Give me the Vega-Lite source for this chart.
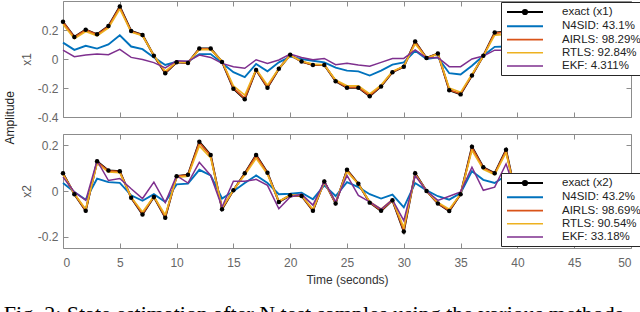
{
  "$schema": "https://vega.github.io/schema/vega-lite/v6.json",
  "padding": {"left": 3, "top": 0, "right": 0, "bottom": 0},
  "title": {"text": "Fig. 2: State estimation after N test samples using the various methods", "orient": "bottom", "anchor": "start", "font": "Liberation Serif", "fontSize": 22, "fontWeight": "normal", "color": "#000", "offset": 19},
  "datasets": {
    "x1": [
      {"t":0,"s":"exact","v":0.257},{"t":1,"s":"exact","v":0.152},{"t":2,"s":"exact","v":0.202},{"t":3,"s":"exact","v":0.17},{"t":4,"s":"exact","v":0.227},{"t":5,"s":"exact","v":0.362},{"t":6,"s":"exact","v":0.193},{"t":7,"s":"exact","v":0.166},{"t":8,"s":"exact","v":0.022},{"t":9,"s":"exact","v":-0.098},{"t":10,"s":"exact","v":-0.023},{"t":11,"s":"exact","v":-0.027},{"t":12,"s":"exact","v":0.072},{"t":13,"s":"exact","v":0.072},{"t":14,"s":"exact","v":-0.02},{"t":15,"s":"exact","v":-0.205},{"t":16,"s":"exact","v":-0.278},{"t":17,"s":"exact","v":-0.075},{"t":18,"s":"exact","v":-0.198},{"t":19,"s":"exact","v":-0.068},{"t":20,"s":"exact","v":0.029},{"t":21,"s":"exact","v":-0.018},{"t":22,"s":"exact","v":-0.041},{"t":23,"s":"exact","v":-0.041},{"t":24,"s":"exact","v":-0.153},{"t":25,"s":"exact","v":-0.198},{"t":26,"s":"exact","v":-0.198},{"t":27,"s":"exact","v":-0.257},{"t":28,"s":"exact","v":-0.189},{"t":29,"s":"exact","v":-0.091},{"t":30,"s":"exact","v":-0.053},{"t":31,"s":"exact","v":0.12},{"t":32,"s":"exact","v":0.007},{"t":33,"s":"exact","v":0.038},{"t":34,"s":"exact","v":-0.216},{"t":35,"s":"exact","v":-0.244},{"t":36,"s":"exact","v":-0.114},{"t":37,"s":"exact","v":0.022},{"t":38,"s":"exact","v":0.182},{"t":39,"s":"exact","v":0.19},{"t":50,"s":"exact","v":0.228},
      {"t":0,"s":"N4SID","v":0.113},{"t":1,"s":"N4SID","v":0.063},{"t":2,"s":"N4SID","v":0.091},{"t":3,"s":"N4SID","v":0.072},{"t":4,"s":"N4SID","v":0.1},{"t":5,"s":"N4SID","v":0.164},{"t":6,"s":"N4SID","v":0.086},{"t":7,"s":"N4SID","v":0.068},{"t":8,"s":"N4SID","v":0.011},{"t":9,"s":"N4SID","v":-0.041},{"t":10,"s":"N4SID","v":-0.018},{"t":11,"s":"N4SID","v":-0.018},{"t":12,"s":"N4SID","v":0.034},{"t":13,"s":"N4SID","v":0.034},{"t":14,"s":"N4SID","v":-0.027},{"t":15,"s":"N4SID","v":-0.091},{"t":16,"s":"N4SID","v":-0.125},{"t":17,"s":"N4SID","v":-0.034},{"t":18,"s":"N4SID","v":-0.085},{"t":19,"s":"N4SID","v":-0.023},{"t":20,"s":"N4SID","v":0.016},{"t":21,"s":"N4SID","v":0.0},{"t":22,"s":"N4SID","v":-0.012},{"t":23,"s":"N4SID","v":-0.023},{"t":24,"s":"N4SID","v":-0.06},{"t":25,"s":"N4SID","v":-0.08},{"t":26,"s":"N4SID","v":-0.085},{"t":27,"s":"N4SID","v":-0.114},{"t":28,"s":"N4SID","v":-0.08},{"t":29,"s":"N4SID","v":-0.039},{"t":30,"s":"N4SID","v":-0.023},{"t":31,"s":"N4SID","v":0.057},{"t":32,"s":"N4SID","v":0.0},{"t":33,"s":"N4SID","v":0.011},{"t":34,"s":"N4SID","v":-0.098},{"t":35,"s":"N4SID","v":-0.107},{"t":36,"s":"N4SID","v":-0.046},{"t":37,"s":"N4SID","v":0.022},{"t":38,"s":"N4SID","v":0.084},{"t":39,"s":"N4SID","v":0.086},
      {"t":0,"s":"AIRLS","v":0.255},{"t":1,"s":"AIRLS","v":0.15},{"t":2,"s":"AIRLS","v":0.2},{"t":3,"s":"AIRLS","v":0.168},{"t":4,"s":"AIRLS","v":0.224},{"t":5,"s":"AIRLS","v":0.357},{"t":6,"s":"AIRLS","v":0.19},{"t":7,"s":"AIRLS","v":0.164},{"t":8,"s":"AIRLS","v":0.023},{"t":9,"s":"AIRLS","v":-0.095},{"t":10,"s":"AIRLS","v":-0.022},{"t":11,"s":"AIRLS","v":-0.026},{"t":12,"s":"AIRLS","v":0.07},{"t":13,"s":"AIRLS","v":0.07},{"t":14,"s":"AIRLS","v":-0.019},{"t":15,"s":"AIRLS","v":-0.2},{"t":16,"s":"AIRLS","v":-0.272},{"t":17,"s":"AIRLS","v":-0.074},{"t":18,"s":"AIRLS","v":-0.194},{"t":19,"s":"AIRLS","v":-0.067},{"t":20,"s":"AIRLS","v":0.028},{"t":21,"s":"AIRLS","v":-0.018},{"t":22,"s":"AIRLS","v":-0.04},{"t":23,"s":"AIRLS","v":-0.041},{"t":24,"s":"AIRLS","v":-0.15},{"t":25,"s":"AIRLS","v":-0.195},{"t":26,"s":"AIRLS","v":-0.195},{"t":27,"s":"AIRLS","v":-0.252},{"t":28,"s":"AIRLS","v":-0.186},{"t":29,"s":"AIRLS","v":-0.09},{"t":30,"s":"AIRLS","v":-0.052},{"t":31,"s":"AIRLS","v":0.117},{"t":32,"s":"AIRLS","v":0.007},{"t":33,"s":"AIRLS","v":0.037},{"t":34,"s":"AIRLS","v":-0.212},{"t":35,"s":"AIRLS","v":-0.24},{"t":36,"s":"AIRLS","v":-0.112},{"t":37,"s":"AIRLS","v":0.022},{"t":38,"s":"AIRLS","v":0.178},{"t":39,"s":"AIRLS","v":0.186},
      {"t":0,"s":"RTLS","v":0.24},{"t":1,"s":"RTLS","v":0.14},{"t":2,"s":"RTLS","v":0.19},{"t":3,"s":"RTLS","v":0.16},{"t":4,"s":"RTLS","v":0.215},{"t":5,"s":"RTLS","v":0.345},{"t":6,"s":"RTLS","v":0.185},{"t":7,"s":"RTLS","v":0.16},{"t":8,"s":"RTLS","v":0.025},{"t":9,"s":"RTLS","v":-0.085},{"t":10,"s":"RTLS","v":-0.02},{"t":11,"s":"RTLS","v":-0.025},{"t":12,"s":"RTLS","v":0.065},{"t":13,"s":"RTLS","v":0.065},{"t":14,"s":"RTLS","v":-0.015},{"t":15,"s":"RTLS","v":-0.185},{"t":16,"s":"RTLS","v":-0.25},{"t":17,"s":"RTLS","v":-0.07},{"t":18,"s":"RTLS","v":-0.18},{"t":19,"s":"RTLS","v":-0.065},{"t":20,"s":"RTLS","v":0.025},{"t":21,"s":"RTLS","v":-0.015},{"t":22,"s":"RTLS","v":-0.035},{"t":23,"s":"RTLS","v":-0.04},{"t":24,"s":"RTLS","v":-0.145},{"t":25,"s":"RTLS","v":-0.185},{"t":26,"s":"RTLS","v":-0.185},{"t":27,"s":"RTLS","v":-0.24},{"t":28,"s":"RTLS","v":-0.18},{"t":29,"s":"RTLS","v":-0.085},{"t":30,"s":"RTLS","v":-0.05},{"t":31,"s":"RTLS","v":0.105},{"t":32,"s":"RTLS","v":0.005},{"t":33,"s":"RTLS","v":0.035},{"t":34,"s":"RTLS","v":-0.2},{"t":35,"s":"RTLS","v":-0.23},{"t":36,"s":"RTLS","v":-0.105},{"t":37,"s":"RTLS","v":0.02},{"t":38,"s":"RTLS","v":0.165},{"t":39,"s":"RTLS","v":0.17},
      {"t":0,"s":"EKF","v":0.061},{"t":1,"s":"EKF","v":0.016},{"t":2,"s":"EKF","v":0.027},{"t":3,"s":"EKF","v":0.034},{"t":4,"s":"EKF","v":0.029},{"t":5,"s":"EKF","v":0.066},{"t":6,"s":"EKF","v":0.011},{"t":7,"s":"EKF","v":-0.003},{"t":8,"s":"EKF","v":-0.025},{"t":9,"s":"EKF","v":-0.061},{"t":10,"s":"EKF","v":-0.012},{"t":11,"s":"EKF","v":-0.016},{"t":12,"s":"EKF","v":0.027},{"t":13,"s":"EKF","v":0.011},{"t":14,"s":"EKF","v":-0.03},{"t":15,"s":"EKF","v":-0.053},{"t":16,"s":"EKF","v":-0.064},{"t":17,"s":"EKF","v":-0.005},{"t":18,"s":"EKF","v":-0.03},{"t":19,"s":"EKF","v":-0.007},{"t":20,"s":"EKF","v":0.034},{"t":21,"s":"EKF","v":0.011},{"t":22,"s":"EKF","v":-0.005},{"t":23,"s":"EKF","v":0.004},{"t":24,"s":"EKF","v":-0.039},{"t":25,"s":"EKF","v":-0.03},{"t":26,"s":"EKF","v":-0.041},{"t":27,"s":"EKF","v":-0.05},{"t":28,"s":"EKF","v":-0.023},{"t":29,"s":"EKF","v":0.004},{"t":30,"s":"EKF","v":0.004},{"t":31,"s":"EKF","v":0.063},{"t":32,"s":"EKF","v":0.007},{"t":33,"s":"EKF","v":0.011},{"t":34,"s":"EKF","v":-0.053},{"t":35,"s":"EKF","v":-0.053},{"t":36,"s":"EKF","v":0.0},{"t":37,"s":"EKF","v":0.02},{"t":38,"s":"EKF","v":0.061},{"t":39,"s":"EKF","v":0.061}
    ],
    "x2": [
      {"t":0,"s":"exact","v":0.078},{"t":1,"s":"exact","v":-0.014},{"t":2,"s":"exact","v":-0.087},{"t":3,"s":"exact","v":0.13},{"t":4,"s":"exact","v":0.09},{"t":5,"s":"exact","v":0.087},{"t":6,"s":"exact","v":-0.03},{"t":7,"s":"exact","v":-0.103},{"t":8,"s":"exact","v":-0.026},{"t":9,"s":"exact","v":-0.117},{"t":10,"s":"exact","v":0.065},{"t":11,"s":"exact","v":0.071},{"t":12,"s":"exact","v":0.216},{"t":13,"s":"exact","v":0.158},{"t":14,"s":"exact","v":-0.08},{"t":15,"s":"exact","v":0.003},{"t":16,"s":"exact","v":0.078},{"t":17,"s":"exact","v":0.158},{"t":18,"s":"exact","v":0.08},{"t":19,"s":"exact","v":-0.048},{"t":20,"s":"exact","v":-0.019},{"t":21,"s":"exact","v":-0.022},{"t":22,"s":"exact","v":-0.087},{"t":23,"s":"exact","v":0.042},{"t":24,"s":"exact","v":-0.055},{"t":25,"s":"exact","v":0.093},{"t":26,"s":"exact","v":0.032},{"t":27,"s":"exact","v":-0.051},{"t":28,"s":"exact","v":-0.087},{"t":29,"s":"exact","v":-0.041},{"t":30,"s":"exact","v":-0.178},{"t":31,"s":"exact","v":0.078},{"t":32,"s":"exact","v":0.0},{"t":33,"s":"exact","v":-0.055},{"t":34,"s":"exact","v":-0.088},{"t":35,"s":"exact","v":-0.014},{"t":36,"s":"exact","v":0.194},{"t":37,"s":"exact","v":0.104},{"t":38,"s":"exact","v":0.078},{"t":39,"s":"exact","v":0.181},{"t":40,"s":"exact","v":-0.05},{"t":50,"s":"exact","v":-0.104},
      {"t":0,"s":"N4SID","v":0.035},{"t":1,"s":"N4SID","v":-0.004},{"t":2,"s":"N4SID","v":-0.038},{"t":3,"s":"N4SID","v":0.054},{"t":4,"s":"N4SID","v":0.039},{"t":5,"s":"N4SID","v":0.036},{"t":6,"s":"N4SID","v":-0.019},{"t":7,"s":"N4SID","v":-0.043},{"t":8,"s":"N4SID","v":-0.014},{"t":9,"s":"N4SID","v":-0.048},{"t":10,"s":"N4SID","v":0.029},{"t":11,"s":"N4SID","v":0.032},{"t":12,"s":"N4SID","v":0.093},{"t":13,"s":"N4SID","v":0.068},{"t":14,"s":"N4SID","v":-0.033},{"t":15,"s":"N4SID","v":-0.001},{"t":16,"s":"N4SID","v":0.035},{"t":17,"s":"N4SID","v":0.068},{"t":18,"s":"N4SID","v":0.035},{"t":19,"s":"N4SID","v":-0.014},{"t":20,"s":"N4SID","v":-0.012},{"t":21,"s":"N4SID","v":-0.007},{"t":22,"s":"N4SID","v":-0.036},{"t":23,"s":"N4SID","v":0.025},{"t":24,"s":"N4SID","v":-0.022},{"t":25,"s":"N4SID","v":0.039},{"t":26,"s":"N4SID","v":0.017},{"t":27,"s":"N4SID","v":-0.014},{"t":28,"s":"N4SID","v":-0.033},{"t":29,"s":"N4SID","v":-0.016},{"t":30,"s":"N4SID","v":-0.072},{"t":31,"s":"N4SID","v":0.035},{"t":32,"s":"N4SID","v":0.003},{"t":33,"s":"N4SID","v":-0.023},{"t":34,"s":"N4SID","v":-0.038},{"t":35,"s":"N4SID","v":-0.009},{"t":36,"s":"N4SID","v":0.087},{"t":37,"s":"N4SID","v":0.049},{"t":38,"s":"N4SID","v":0.035},{"t":39,"s":"N4SID","v":0.068},{"t":40,"s":"N4SID","v":-0.02},
      {"t":0,"s":"AIRLS","v":0.076},{"t":1,"s":"AIRLS","v":-0.013},{"t":2,"s":"AIRLS","v":-0.085},{"t":3,"s":"AIRLS","v":0.127},{"t":4,"s":"AIRLS","v":0.088},{"t":5,"s":"AIRLS","v":0.085},{"t":6,"s":"AIRLS","v":-0.029},{"t":7,"s":"AIRLS","v":-0.1},{"t":8,"s":"AIRLS","v":-0.025},{"t":9,"s":"AIRLS","v":-0.114},{"t":10,"s":"AIRLS","v":0.064},{"t":11,"s":"AIRLS","v":0.07},{"t":12,"s":"AIRLS","v":0.212},{"t":13,"s":"AIRLS","v":0.155},{"t":14,"s":"AIRLS","v":-0.078},{"t":15,"s":"AIRLS","v":0.003},{"t":16,"s":"AIRLS","v":0.076},{"t":17,"s":"AIRLS","v":0.155},{"t":18,"s":"AIRLS","v":0.078},{"t":19,"s":"AIRLS","v":-0.047},{"t":20,"s":"AIRLS","v":-0.019},{"t":21,"s":"AIRLS","v":-0.021},{"t":22,"s":"AIRLS","v":-0.085},{"t":23,"s":"AIRLS","v":0.041},{"t":24,"s":"AIRLS","v":-0.054},{"t":25,"s":"AIRLS","v":0.091},{"t":26,"s":"AIRLS","v":0.031},{"t":27,"s":"AIRLS","v":-0.05},{"t":28,"s":"AIRLS","v":-0.085},{"t":29,"s":"AIRLS","v":-0.04},{"t":30,"s":"AIRLS","v":-0.174},{"t":31,"s":"AIRLS","v":0.076},{"t":32,"s":"AIRLS","v":0.0},{"t":33,"s":"AIRLS","v":-0.054},{"t":34,"s":"AIRLS","v":-0.086},{"t":35,"s":"AIRLS","v":-0.014},{"t":36,"s":"AIRLS","v":0.19},{"t":37,"s":"AIRLS","v":0.102},{"t":38,"s":"AIRLS","v":0.076},{"t":39,"s":"AIRLS","v":0.177},{"t":40,"s":"AIRLS","v":-0.049},
      {"t":0,"s":"RTLS","v":0.072},{"t":1,"s":"RTLS","v":-0.012},{"t":2,"s":"RTLS","v":-0.08},{"t":3,"s":"RTLS","v":0.12},{"t":4,"s":"RTLS","v":0.083},{"t":5,"s":"RTLS","v":0.08},{"t":6,"s":"RTLS","v":-0.027},{"t":7,"s":"RTLS","v":-0.092},{"t":8,"s":"RTLS","v":-0.024},{"t":9,"s":"RTLS","v":-0.105},{"t":10,"s":"RTLS","v":0.06},{"t":11,"s":"RTLS","v":0.065},{"t":12,"s":"RTLS","v":0.198},{"t":13,"s":"RTLS","v":0.145},{"t":14,"s":"RTLS","v":-0.073},{"t":15,"s":"RTLS","v":0.004},{"t":16,"s":"RTLS","v":0.07},{"t":17,"s":"RTLS","v":0.143},{"t":18,"s":"RTLS","v":0.073},{"t":19,"s":"RTLS","v":-0.045},{"t":20,"s":"RTLS","v":-0.018},{"t":21,"s":"RTLS","v":-0.02},{"t":22,"s":"RTLS","v":-0.08},{"t":23,"s":"RTLS","v":0.038},{"t":24,"s":"RTLS","v":-0.05},{"t":25,"s":"RTLS","v":0.085},{"t":26,"s":"RTLS","v":0.03},{"t":27,"s":"RTLS","v":-0.047},{"t":28,"s":"RTLS","v":-0.08},{"t":29,"s":"RTLS","v":-0.038},{"t":30,"s":"RTLS","v":-0.16},{"t":31,"s":"RTLS","v":0.072},{"t":32,"s":"RTLS","v":0.0},{"t":33,"s":"RTLS","v":-0.05},{"t":34,"s":"RTLS","v":-0.08},{"t":35,"s":"RTLS","v":-0.013},{"t":36,"s":"RTLS","v":0.178},{"t":37,"s":"RTLS","v":0.095},{"t":38,"s":"RTLS","v":0.072},{"t":39,"s":"RTLS","v":0.168},{"t":40,"s":"RTLS","v":-0.045},
      {"t":0,"s":"EKF","v":0.061},{"t":1,"s":"EKF","v":-0.004},{"t":2,"s":"EKF","v":-0.041},{"t":3,"s":"EKF","v":0.133},{"t":4,"s":"EKF","v":0.046},{"t":5,"s":"EKF","v":0.055},{"t":6,"s":"EKF","v":0.01},{"t":7,"s":"EKF","v":-0.033},{"t":8,"s":"EKF","v":0.039},{"t":9,"s":"EKF","v":-0.051},{"t":10,"s":"EKF","v":0.067},{"t":11,"s":"EKF","v":0.035},{"t":12,"s":"EKF","v":0.126},{"t":13,"s":"EKF","v":0.068},{"t":14,"s":"EKF","v":-0.07},{"t":15,"s":"EKF","v":0.043},{"t":16,"s":"EKF","v":0.043},{"t":17,"s":"EKF","v":0.051},{"t":18,"s":"EKF","v":0.025},{"t":19,"s":"EKF","v":-0.078},{"t":20,"s":"EKF","v":-0.026},{"t":21,"s":"EKF","v":-0.014},{"t":22,"s":"EKF","v":-0.062},{"t":23,"s":"EKF","v":0.042},{"t":24,"s":"EKF","v":-0.048},{"t":25,"s":"EKF","v":0.068},{"t":26,"s":"EKF","v":-0.019},{"t":27,"s":"EKF","v":-0.048},{"t":28,"s":"EKF","v":-0.08},{"t":29,"s":"EKF","v":-0.038},{"t":30,"s":"EKF","v":-0.13},{"t":31,"s":"EKF","v":0.068},{"t":32,"s":"EKF","v":0.0},{"t":33,"s":"EKF","v":-0.041},{"t":34,"s":"EKF","v":-0.023},{"t":35,"s":"EKF","v":-0.004},{"t":36,"s":"EKF","v":0.104},{"t":37,"s":"EKF","v":0.003},{"t":38,"s":"EKF","v":0.017},{"t":39,"s":"EKF","v":0.119},{"t":40,"s":"EKF","v":-0.03}
    ]
  },
  "vconcat": [
    {
      "title": {"text": "Amplitude", "orient": "left", "anchor": "middle", "font": "Liberation Sans", "fontSize": 12, "fontWeight": "normal", "color": "#222", "offset": 4, "dx": 25},
      "spacing": 10,
      "resolve": {"scale": {"color": "independent", "strokeWidth": "independent"}, "legend": {"color": "independent"}},
      "vconcat": [
        {
          "width": 568, "height": 116,
          "data": {"name": "x1"},
          "layer": [
            {
              "mark": {"type": "line"},
              "encoding": {
                "x": {"field": "t", "type": "quantitative", "scale": {"domain": [0, 50], "nice": false}, "axis": {"orient": "bottom", "labels": false, "title": null, "values": [0,5,10,15,20,25,30,35,40,45,50]}},
                "y": {"field": "v", "type": "quantitative", "scale": {"domain": [-0.4, 0.4], "nice": false}, "axis": {"values": [-0.4,-0.2,0,0.2], "labelPadding": 10, "title": "x1", "titlePadding": 3.5, "titleColor": "#555", "labelExpr": "datum.value == 0 ? '0' : (datum.value < 0 ? '-' : '') + format(abs(datum.value), '.1f')"}},
                "color": {"field": "s", "type": "nominal", "scale": {"domain": ["exact","N4SID","AIRLS","RTLS","EKF"], "range": ["#000000","#0072BD","#D95319","#EDB120","#7E2F8E"]},
                  "legend": {"orient": "none", "legendX": 438, "legendY": 1, "title": null,
                    "labelExpr": "datum.label == 'exact' ? 'exact (x1)' : datum.label == 'N4SID' ? 'N4SID: 43.1%' : datum.label == 'AIRLS' ? 'AIRLS: 98.29%' : datum.label == 'RTLS' ? 'RTLS: 92.84%' : 'EKF: 4.311%'",
                    "encode": {"symbols": {"update": {"shape": {"signal": "datum.value == 'exact' ? 'M-3,0H3M-0.35,0A0.35,0.35 0 1,1 0.35,0A0.35,0.35 0 1,1 -0.35,0' : 'M-3,0H3'"}, "fill": {"signal": "datum.value == 'exact' ? 'black' : 'transparent'"}}}}}},
                "strokeWidth": {"field": "s", "type": "nominal", "scale": {"domain": ["exact","N4SID","AIRLS","RTLS","EKF"], "range": [2, 1.5, 2, 2, 1.5]}, "legend": null}
              }
            },
            {
              "transform": [{"filter": "datum.s == 'exact'"}],
              "mark": {"type": "point", "filled": true, "color": "#000", "size": 20, "opacity": 1},
              "encoding": {
                "x": {"field": "t", "type": "quantitative", "axis": null},
                "y": {"field": "v", "type": "quantitative", "axis": null}
              }
            },
            {
              "transform": [{"filter": "datum.s == 'exact'"}],
              "mark": {"type": "point", "opacity": 0},
              "encoding": {
                "x": {"field": "t", "type": "quantitative", "axis": {"orient": "top", "labels": false, "title": null, "values": [0,5,10,15,20,25,30,35,40,45,50]}},
                "y": {"field": "v", "type": "quantitative", "axis": {"orient": "right", "labels": false, "title": null, "values": [-0.4,-0.2,0,0.2]}}
              }
            }
          ],
          "resolve": {"axis": {"x": "independent", "y": "independent"}}
        },
        {
          "width": 568, "height": 114,
          "data": {"name": "x2"},
          "layer": [
            {
              "mark": {"type": "line"},
              "encoding": {
                "x": {"field": "t", "type": "quantitative", "scale": {"domain": [0, 50], "nice": false}, "axis": {"orient": "bottom", "title": "Time (seconds)", "labelPadding": 14, "titlePadding": 6, "values": [0,5,10,15,20,25,30,35,40,45,50]}},
                "y": {"field": "v", "type": "quantitative", "scale": {"domain": [-0.25, 0.25], "nice": false}, "axis": {"values": [-0.2,0,0.2], "labelPadding": 10, "title": "x2", "titlePadding": 3.5, "titleColor": "#555", "labelExpr": "datum.value == 0 ? '0' : (datum.value < 0 ? '-' : '') + format(abs(datum.value), '.1f')"}},
                "color": {"field": "s", "type": "nominal", "scale": {"domain": ["exact","N4SID","AIRLS","RTLS","EKF"], "range": ["#000000","#0072BD","#D95319","#EDB120","#7E2F8E"]},
                  "legend": {"orient": "none", "legendX": 438, "legendY": 39, "title": null,
                    "labelExpr": "datum.label == 'exact' ? 'exact (x2)' : datum.label == 'N4SID' ? 'N4SID: 43.2%' : datum.label == 'AIRLS' ? 'AIRLS: 98.69%' : datum.label == 'RTLS' ? 'RTLS: 90.54%' : 'EKF: 33.18%'",
                    "encode": {"symbols": {"update": {"shape": {"signal": "datum.value == 'exact' ? 'M-3,0H3M-0.35,0A0.35,0.35 0 1,1 0.35,0A0.35,0.35 0 1,1 -0.35,0' : 'M-3,0H3'"}, "fill": {"signal": "datum.value == 'exact' ? 'black' : 'transparent'"}}}}}},
                "strokeWidth": {"field": "s", "type": "nominal", "scale": {"domain": ["exact","N4SID","AIRLS","RTLS","EKF"], "range": [2, 1.5, 2, 2, 1.5]}, "legend": null}
              }
            },
            {
              "transform": [{"filter": "datum.s == 'exact'"}],
              "mark": {"type": "point", "filled": true, "color": "#000", "size": 20, "opacity": 1},
              "encoding": {
                "x": {"field": "t", "type": "quantitative", "axis": null},
                "y": {"field": "v", "type": "quantitative", "axis": null}
              }
            },
            {
              "transform": [{"filter": "datum.s == 'exact'"}],
              "mark": {"type": "point", "opacity": 0},
              "encoding": {
                "x": {"field": "t", "type": "quantitative", "axis": {"orient": "top", "labels": false, "title": null, "values": [0,5,10,15,20,25,30,35,40,45,50]}},
                "y": {"field": "v", "type": "quantitative", "axis": {"orient": "right", "labels": false, "title": null, "values": [-0.2,0,0.2]}}
              }
            }
          ],
          "resolve": {"axis": {"x": "independent", "y": "independent"}}
        }
      ]
    }
  ],
  "config": {
    "font": "Liberation Sans",
    "view": {"stroke": null},
    "axis": {"domainColor": "#8c8c8c", "tickColor": "#8c8c8c", "labelColor": "#666", "labelFontSize": 12, "titleFontSize": 12, "titleFontWeight": "normal", "titleColor": "#333", "grid": false, "tickSize": -5, "labelFont": "Liberation Sans", "titleFont": "Liberation Sans"},
    "legend": {"fillColor": "white", "strokeColor": "#262626", "padding": 3, "columnPadding": 5, "symbolType": "M-3,0H3", "symbolSize": 144, "symbolStrokeWidth": 1.5, "symbolOffset": 14, "labelOffset": 30, "labelFontSize": 11.5, "labelFont": "Liberation Sans", "labelColor": "#222", "rowPadding": 0.25, "labelLimit": 200, "cornerRadius": 0}
  }
}
